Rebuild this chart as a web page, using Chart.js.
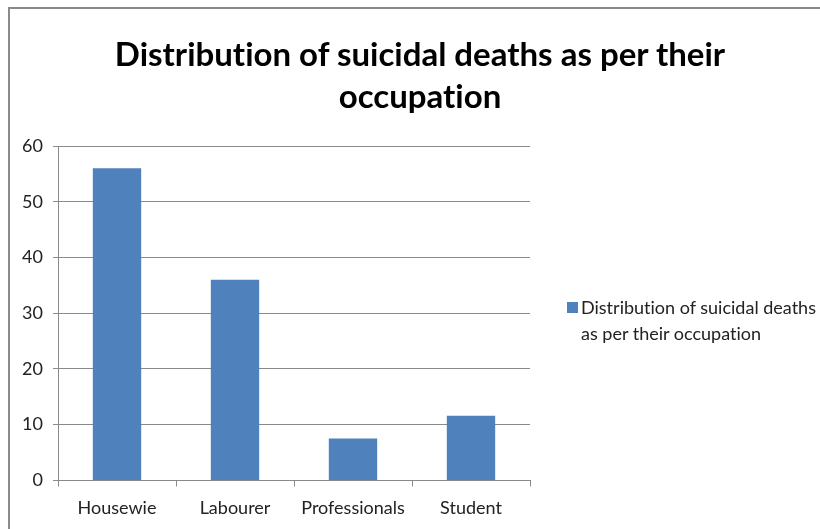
<!DOCTYPE html>
<html>
<head>
<meta charset="utf-8">
<script src="https://cdn.jsdelivr.net/npm/chart.js@4"></script>
<style>
    body { margin: 0; background: #fff; overflow: hidden; }
    #frame {
        position: absolute; left: 8px; top: 7px;
        width: 820px; height: 530px;
        border-left: 2px solid #8a8a8a; border-top: 2px solid #8a8a8a;
    }
    #wrap { position: absolute; left: 0; top: 0; width: 810px; height: 523px; }
    #title {
        position: absolute; left: 0; top: 23px; width: 820px; text-align: center;
        font-family: Lato, "Open Sans", sans-serif; font-weight: bold; font-size: 33px; line-height: 42px;
        color: #000; font-variant-ligatures: none;
    }
    #legend {
        position: absolute; left: 571px; top: 285px;
        font-family: Lato, "Open Sans", sans-serif; font-size: 18px; line-height: 26px; color: #222;
        font-variant-ligatures: none;
    }
    #legend .box {
        position: absolute; left: -14px; top: 8px; width: 11px; height: 11px; background: #4f81bd;
    }
</style>
</head>
<body>
<div id="frame">
    <div id="wrap"><canvas id="chart"></canvas></div>
    <div id="title"></div>
    <div id="legend"><span class="box"></span>Distribution of suicidal deaths<br>as per their occupation</div>
</div>
<script>
const titleLines = ["Distribution of suicidal deaths as per their", "occupation"];
const occupations = ["Housewie", "Labourer", "Professionals", "Student"];
const deaths = [56, 36, 7.5, 11.6];
const seriesName = "Distribution of suicidal deaths as per their occupation";

document.getElementById("title").innerHTML = titleLines.join("<br>");

const ctx = document.getElementById("chart").getContext("2d");
const tickFont = { family: "Lato, 'Open Sans', sans-serif", size: 18 };

new Chart(ctx, {
    type: "bar",
    data: {
        labels: occupations,
        datasets: [{
            label: seriesName,
            data: deaths,
            backgroundColor: "#4f81bd",
            categoryPercentage: 1,
            barPercentage: 0.41
        }]
    },
    options: {
        responsive: true,
        maintainAspectRatio: false,
        animation: false,
        layout: { padding: { left: 0, right: 290, top: 137, bottom: 2 } },
        plugins: {
            legend: { display: false },
            tooltip: { enabled: false },
            title: { display: false }
        },
        scales: {
            x: {
                grid: { drawOnChartArea: false, drawTicks: true, tickLength: 6, color: "#8a8a8a" },
                border: { color: "#8a8a8a" },
                ticks: { color: "#222", padding: 11, font: tickFont }
            },
            y: {
                min: 0, max: 60,
                afterFit: (scale) => { scale.width = 48; },
                grid: { color: "#8a8a8a", tickLength: 5 },
                border: { color: "#8a8a8a" },
                ticks: { stepSize: 10, color: "#222", padding: 10, font: tickFont }
            }
        }
    }
});
</script>
</body>
</html>
